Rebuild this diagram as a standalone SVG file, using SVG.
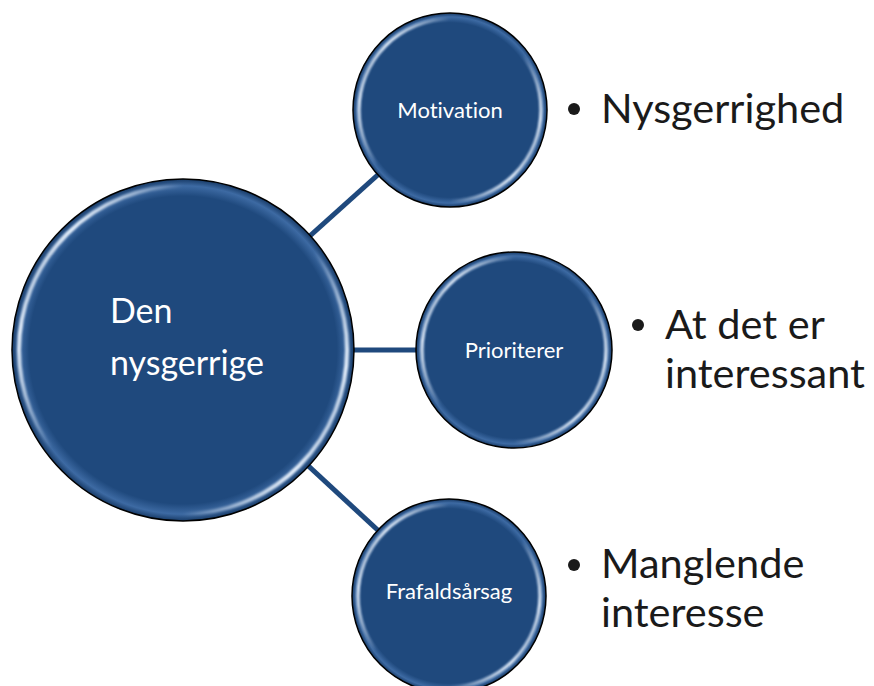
<svg xmlns="http://www.w3.org/2000/svg" width="874" height="686" viewBox="0 0 874 686">
  <defs>
    <linearGradient id="hl" x1="0" y1="0.25" x2="1" y2="0.75">
      <stop offset="0" stop-color="#ffffff" stop-opacity="0.2"/>
      <stop offset="0.08" stop-color="#e4eefa" stop-opacity="1"/>
      <stop offset="0.3" stop-color="#ffffff" stop-opacity="0"/>
      <stop offset="0.7" stop-color="#ffffff" stop-opacity="0"/>
      <stop offset="0.92" stop-color="#e4eefa" stop-opacity="1"/>
      <stop offset="1" stop-color="#ffffff" stop-opacity="0.2"/>
    </linearGradient>
    <radialGradient id="shade" cx="0.5" cy="0.5" r="0.5">
      <stop offset="0.9" stop-color="#1f497d"/>
      <stop offset="0.96" stop-color="#3d6aa3"/>
      <stop offset="1" stop-color="#173a66"/>
    </radialGradient>
    <filter id="blur" x="-10%" y="-10%" width="120%" height="120%">
      <feGaussianBlur stdDeviation="1.1"/>
    </filter>
  </defs>
  <style>
    text { font-variant-ligatures: none; }
    .disc { fill: url(#shade); stroke: #000000; stroke-width: 1.5; }
    .gloss { fill: none; stroke: url(#hl); filter: url(#blur); }
    .conn { stroke: #1f497d; stroke-width: 5; fill: none; }
    .lbl { fill: #ffffff; font-family: Lato, "Liberation Sans", sans-serif; }
    .sm { font-size: 22px; }
    .txt { fill: #1a1a1a; font-family: Lato, "Liberation Sans", sans-serif; font-size: 41.5px; }
    .bul { fill: #1a1a1a; }
  </style>
  <rect width="874" height="686" fill="#ffffff"/>
  <g id="connectors">
    <line class="conn" x1="183" y1="350" x2="450" y2="110"/>
    <line class="conn" x1="183" y1="350" x2="514" y2="350"/>
    <line class="conn" x1="183" y1="350" x2="449" y2="596"/>
  </g>
  <g id="node-center">
    <circle class="disc" cx="183" cy="350" r="171"/>
    <circle class="gloss" cx="183" cy="350" r="164" stroke-width="4"/>
    <text class="lbl" x="110" y="323" font-size="34">Den</text>
    <text class="lbl" x="110" y="375" font-size="34">nysgerrige</text>
  </g>
  <g id="node-motivation">
    <circle class="disc" cx="450" cy="110" r="97"/>
    <circle class="gloss" cx="450" cy="110" r="91" stroke-width="3"/>
    <text class="lbl sm" x="450" y="118" text-anchor="middle">Motivation</text>
  </g>
  <g id="node-prioriterer">
    <circle class="disc" cx="514" cy="350" r="98"/>
    <circle class="gloss" cx="514" cy="350" r="92" stroke-width="3"/>
    <text class="lbl sm" x="514" y="358" text-anchor="middle">Prioriterer</text>
  </g>
  <g id="node-frafald">
    <circle class="disc" cx="449" cy="596" r="97"/>
    <circle class="gloss" cx="449" cy="596" r="91" stroke-width="3"/>
    <text class="lbl sm" x="449" y="599" text-anchor="middle">Frafaldsårsag</text>
  </g>
  <g id="bullets-motivation">
    <circle class="bul" cx="574" cy="109" r="6"/>
    <text class="txt" x="601" y="123">Nysgerrighed</text>
  </g>
  <g id="bullets-prioriterer">
    <circle class="bul" cx="638" cy="325" r="6"/>
    <text class="txt" x="665" y="339">At det er</text>
    <text class="txt" x="665" y="388">interessant</text>
  </g>
  <g id="bullets-frafald">
    <circle class="bul" cx="574" cy="565" r="6"/>
    <text class="txt" x="601" y="578">Manglende</text>
    <text class="txt" x="601" y="627">interesse</text>
  </g>
</svg>
